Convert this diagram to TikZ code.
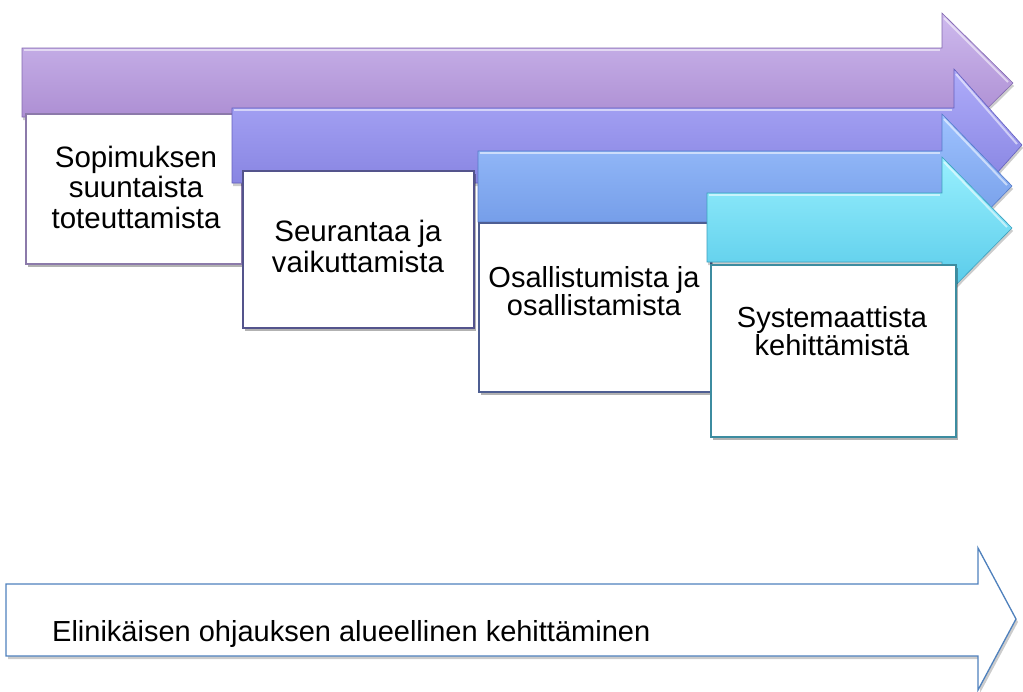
\documentclass[tikz,border=0pt]{standalone}
\usepackage{fontspec}
\setmainfont{Liberation Sans}
\usetikzlibrary{shadows}
\definecolor{aOneT}{RGB}{206,186,238}
\definecolor{aOneB}{RGB}{162,128,202}
\definecolor{aOneL}{RGB}{130,105,175}
\definecolor{aTwoT}{RGB}{174,172,250}
\definecolor{aTwoB}{RGB}{124,120,218}
\definecolor{aTwoL}{RGB}{100,96,190}
\definecolor{aThrT}{RGB}{158,194,254}
\definecolor{aThrB}{RGB}{104,146,226}
\definecolor{aThrL}{RGB}{84,122,200}
\definecolor{aFouT}{RGB}{152,240,254}
\definecolor{aFouB}{RGB}{84,200,232}
\definecolor{aFouL}{RGB}{60,160,190}
\definecolor{bOne}{RGB}{140,122,170}
\definecolor{bTwo}{RGB}{84,84,140}
\definecolor{bThr}{RGB}{78,94,146}
\definecolor{bFou}{RGB}{60,140,160}
\definecolor{lowline}{RGB}{79,129,189}
\begin{document}
\begin{tikzpicture}[x=1pt,y=-1pt,
  boxstyle/.style={draw, line width=1.8pt, fill=white, inner sep=0pt, anchor=north west,
    drop shadow={shadow xshift=2pt, shadow yshift=-3pt, opacity=0.3, fill=black}},
  arrowbody/.style={drop shadow={shadow xshift=1pt, shadow yshift=-3pt, opacity=0.2, fill=black}},
  glint/.style={draw=white, line width=2pt, opacity=0.55},
  lbl/.style={align=center, inner sep=0pt, font=\fontsize{29.5}{30.5}\selectfont},
  lbltight/.style={align=center, inner sep=0pt, font=\fontsize{29}{28}\selectfont}]
\useasboundingbox (0,0) rectangle (1023,691);

% arrow 1
\shade[arrowbody, top color=aOneT, bottom color=aOneB, draw=aOneL, line width=0.6pt]
  (22,48) -- (942,48) -- (942,13) -- (1013,83) -- (942,153) -- (942,117) -- (22,117) -- cycle;
\draw[glint] (24,50) -- (940,50);
\draw[glint] (944,18) -- (1008,82);
\node[boxstyle, draw=bOne, minimum width=216pt, minimum height=150pt] (b1) at (25,113) {};
\node[lbl, anchor=base] (t1) at (136,228) {Sopimuksen\\suuntaista\\toteuttamista};

% arrow 2
\shade[arrowbody, top color=aTwoT, bottom color=aTwoB, draw=aTwoL, line width=0.6pt]
  (232,108) -- (954,108) -- (954,69) -- (1022,145) -- (954,221) -- (954,183) -- (232,183) -- cycle;
\draw[glint] (234,110) -- (952,110);
\draw[glint] (956,74) -- (1017,144);
\node[boxstyle, draw=bTwo, minimum width=231pt, minimum height=157pt] (b2) at (242,170) {};
\node[lbl, anchor=base] (t2) at (358,272) {Seurantaa ja\\vaikuttamista};

% arrow 3
\shade[arrowbody, top color=aThrT, bottom color=aThrB, draw=aThrL, line width=0.6pt]
  (478,151) -- (942,151) -- (942,114) -- (1012,186) -- (942,258) -- (942,222) -- (478,222) -- cycle;
\draw[glint] (480,153) -- (940,153);
\draw[glint] (944,119) -- (1007,185);
\node[boxstyle, draw=bThr, minimum width=232pt, minimum height=169pt] (b3) at (478,222) {};
\node[lbltight, anchor=base] (t3) at (594,315) {Osallistumista ja\\osallistamista};

% arrow 4
\shade[arrowbody, top color=aFouT, bottom color=aFouB, draw=aFouL, line width=0.6pt]
  (707,193) -- (942,193) -- (942,157) -- (1012,228) -- (942,299) -- (942,262) -- (707,262) -- cycle;
\draw[glint] (709,195) -- (940,195);
\draw[glint] (944,162) -- (1007,227);
\node[boxstyle, draw=bFou, minimum width=245pt, minimum height=172pt] (b4) at (710,264) {};
\node[lbltight, anchor=base] (t4) at (832,355) {Systemaattista\\kehittämistä};

% bottom arrow
\draw[draw=lowline, line width=1.3pt, fill=white,
  drop shadow={shadow xshift=2pt, shadow yshift=-3pt, opacity=0.2, fill=black}]
  (6,584) -- (978,584) -- (978,548) -- (1016,619) -- (978,690) -- (978,656) -- (6,656) -- cycle;
\node[anchor=base west, inner sep=0pt, font=\fontsize{29}{31}\selectfont] (t5) at (52,641)
  {Elinikäisen ohjauksen alueellinen kehittäminen};
\end{tikzpicture}
\end{document}
